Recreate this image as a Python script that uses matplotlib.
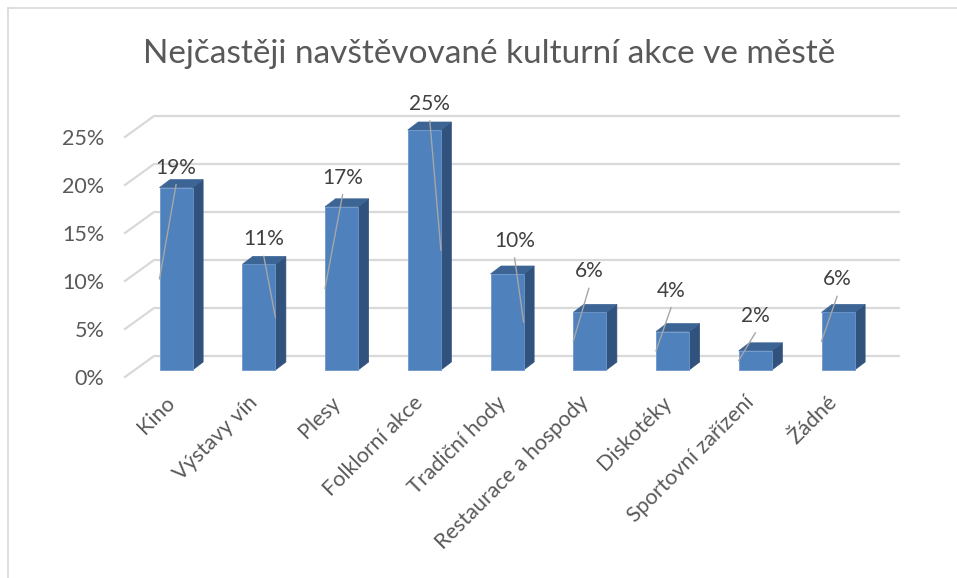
import numpy as np
import matplotlib
matplotlib.use('Agg')
import matplotlib.pyplot as plt
from matplotlib.patches import Polygon

plt.rcParams['font.family'] = ['Lato', 'DejaVu Sans']

# data
categories = ['Kino', 'Výstavy vín', 'Plesy', 'Folklorní akce', 'Tradiční hody',
              'Restaurace a hospody', 'Diskotéky', 'Sportovní zařízení', 'Žádné']
values = [19, 11, 17, 25, 10, 6, 4, 2, 6]
yticks = [0, 5, 10, 15, 20, 25]
title = 'Nejčastěji navštěvované kulturní akce ve městě'

# layout of the fake 3D look (pixels)
PX_X = 82.75            # px per category
PX_Y = 9.6              # px per percent
def dx(px): return px / PX_X
def dy(px): return px / PX_Y

FRONT_DX, FRONT_DY = dx(9.7), dy(7)     # bar front plane vs floor front
BAR_DX, BAR_DY = dx(10.5), dy(8)        # bar depth
WALL_DX, WALL_DY = dx(29), dy(21)       # back wall vs floor front
BAR_W = 0.4
leader_side = [-1, 1, -1, 1, 1, -1, -1, -1, -1]
label_dx = [0, 5, 1, 5.5, 7.5, -1, -1.5, 0, -1]
label_raise = [20, 25, 29, 26, 33, 41, 41, 35, 33]

TEXT = '#595959'
FRONT = '#4f81bd'
TOP = '#3c6595'
SIDE = '#31527c'
GRID = '#d9d9d9'

fig = plt.figure(figsize=(9.57, 5.78), dpi=100)
ax = fig.add_axes([125 / 957, (578 - 377) / 578, 9 * PX_X / 957, 25 * PX_Y / 578])
ax.set_xlim(-0.5, 8.5)
ax.set_ylim(0, 25)
for s in ax.spines.values():
    s.set_visible(False)

# gridlines: side wall diagonal + back wall line
for v in yticks:
    ax.plot([-0.5, -0.5 + WALL_DX, 8.5 + WALL_DX], [v, v + WALL_DY, v + WALL_DY],
            color=GRID, lw=1.6, clip_on=False, zorder=1)

x = np.arange(len(categories))
xf = x + FRONT_DX
bars = ax.bar(xf, values, width=BAR_W, bottom=FRONT_DY, color=FRONT,
              edgecolor='#6d97cc', linewidth=0.6, zorder=3, clip_on=False)

for xi, v in zip(xf, values):
    l, r = xi - BAR_W / 2, xi + BAR_W / 2
    b, t = FRONT_DY, FRONT_DY + v
    side = Polygon([[r, b], [r + BAR_DX, b + BAR_DY], [r + BAR_DX, t + BAR_DY], [r, t]],
                   closed=True, facecolor=SIDE, edgecolor=SIDE, lw=0.5, zorder=2, clip_on=False)
    top = Polygon([[l, t], [l + BAR_DX, t + BAR_DY], [r + BAR_DX, t + BAR_DY], [r, t]],
                  closed=True, facecolor=TOP, edgecolor=TOP, lw=0.5, zorder=2, clip_on=False)
    ax.add_patch(side)
    ax.add_patch(top)

# data labels with leader lines
for i, v in enumerate(values):
    lx = xf[i] + dx(label_dx[i])
    ly = FRONT_DY + v + dy(label_raise[i])
    ax.text(lx, ly, f'{v}%', ha='center', va='center', fontsize=15, color='#404040',
            zorder=5, clip_on=False)
    ex = xf[i] + leader_side[i] * BAR_W / 2
    ey = FRONT_DY + v / 2
    ax.plot([lx, ex], [ly - dy(17), ey], color='#a6a6a6', lw=1, zorder=4, clip_on=False)

ax.set_yticks(yticks, [f'{v}%' for v in yticks])
ax.set_xticks(x - 0.02, categories, rotation=45, ha='right', va='top', rotation_mode='anchor')
ax.tick_params(axis='y', length=0, pad=15, labelsize=15.5, labelcolor=TEXT)
ax.tick_params(axis='x', length=0, pad=11, labelsize=15.5, labelcolor=TEXT)

fig.text(489 / 957, 1 - 54 / 578, title, ha='center', va='center', fontsize=24, color=TEXT)

# chart frame (left and top edges visible)
fig.add_artist(plt.Line2D([8 / 957, 8 / 957], [0, 1 - 8 / 578], color='#d9d9d9', lw=1.2))
fig.add_artist(plt.Line2D([8 / 957, 1], [1 - 8 / 578, 1 - 8 / 578], color='#d9d9d9', lw=1.2))

fig.savefig('out.png', dpi=100)
